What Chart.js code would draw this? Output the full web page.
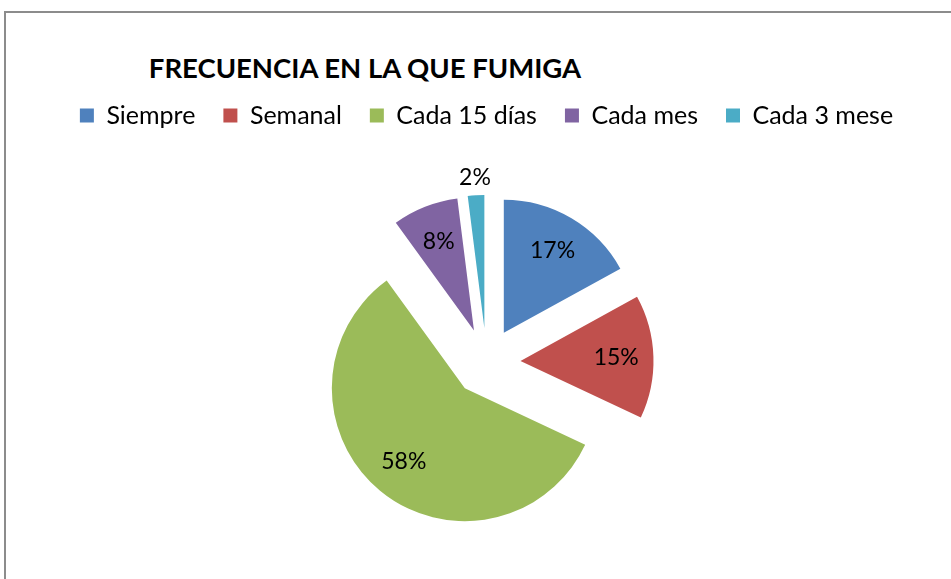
<!DOCTYPE html>
<html>
<head>
<meta charset="utf-8">
<script src="https://cdn.jsdelivr.net/npm/chart.js@4.4.1/dist/chart.umd.min.js"></script>
<style>
  html, body { margin: 0; padding: 0; background: #fff; overflow: hidden; }
  #wrap { position: relative; width: 951px; height: 579px; overflow: hidden; }
  #frame { position: absolute; left: 4px; top: 11px; width: 960px; height: 600px; border: 2px solid #8c8c8c; }
  #title { position: absolute; left: 0; top: 51px; width: 730px; text-align: center;
           font: bold 27.5px/1.2 Lato, sans-serif; color: #000; }
  canvas { position: absolute; left: 0; top: 0; }
</style>
</head>
<body>
<div id="wrap">
  <div id="frame"></div>
  <div id="title">FRECUENCIA EN LA QUE FUMIGA</div>
  <canvas id="chart" width="951" height="600"></canvas>
</div>
<script>
const categories = ['Siempre', 'Semanal', 'Cada 15 días', 'Cada mes', 'Cada 3 mese'];
const percentages = [17, 15, 58, 8, 2];
const sliceColors = ['#4F81BD', '#C0504D', '#9BBB59', '#8064A2', '#4BACC6'];

// how far every slice is pulled out of the pie, in px
const EXPLODE = 34;

// chart.js "offset" also grows the radius, so pull the slices out here instead
const explodedPie = {
    id: 'explodedPie',
    beforeDatasetDraw(chart, args) {
        const ctx = chart.ctx;
        args.meta.data.forEach(arc => {
            const mid = (arc.startAngle + arc.endAngle) / 2;
            ctx.save();
            ctx.translate(Math.cos(mid) * EXPLODE, Math.sin(mid) * EXPLODE);
            arc.draw(ctx, chart.chartArea);
            ctx.restore();
        });
        return false;
    }
};

const pctLabels = {
    id: 'pctLabels',
    afterDatasetsDraw(chart) {
        const ctx = chart.ctx;
        const meta = chart.getDatasetMeta(0);
        ctx.save();
        ctx.font = '23px Lato';
        ctx.fillStyle = '#000';
        ctx.textAlign = 'center';
        ctx.textBaseline = 'middle';
        meta.data.forEach((arc, i) => {
            const mid = (arc.startAngle + arc.endAngle) / 2;
            const k = percentages[i] < 5 ? 1.13 : 0.72;
            const d = EXPLODE + arc.outerRadius * k;
            ctx.fillText(percentages[i] + '%', arc.x + Math.cos(mid) * d, arc.y + Math.sin(mid) * d);
        });
        ctx.restore();
    }
};

new Chart(document.getElementById('chart'), {
    type: 'pie',
    data: {
        labels: categories,
        datasets: [{
            data: percentages,
            backgroundColor: sliceColors,
            borderWidth: 0,
            hoverOffset: 0
        }]
    },
    options: {
        responsive: false,
        animation: false,
        radius: 133,
        layout: {
            padding: { left: 22, right: 0, top: 75, bottom: 14 }
        },
        plugins: {
            title: { display: false },
            tooltip: { enabled: false },
            legend: {
                position: 'top',
                labels: {
                    boxWidth: 14,
                    boxHeight: 14,
                    padding: 28,
                    color: '#000',
                    font: { family: 'Lato', size: 25 }
                }
            }
        }
    },
    plugins: [explodedPie, pctLabels]
});
</script>
</body>
</html>
